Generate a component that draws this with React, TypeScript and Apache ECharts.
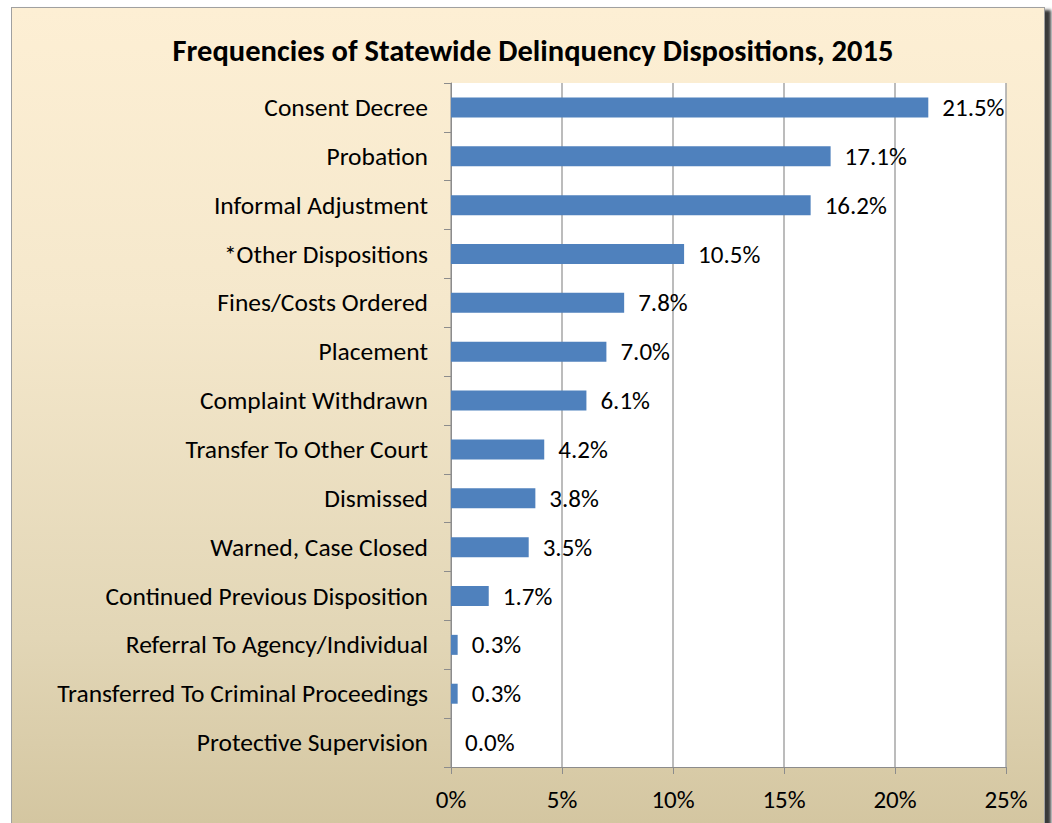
import React, { useEffect, useRef } from "react";
import * as echarts from "echarts";

const categories = [
  "Consent Decree",
  "Probation",
  "Informal Adjustment",
  "*Other Dispositions",
  "Fines/Costs Ordered",
  "Placement",
  "Complaint Withdrawn",
  "Transfer To Other Court",
  "Dismissed",
  "Warned, Case Closed",
  "Continued Previous Disposition",
  "Referral To Agency/Individual",
  "Transferred To Criminal Proceedings",
  "Protective Supervision",
];

const values = [21.5, 17.1, 16.2, 10.5, 7.8, 7.0, 6.1, 4.2, 3.8, 3.5, 1.7, 0.3, 0.3, 0.0];

const xTicks = { min: 0, max: 25, interval: 5 };

const titleText = "Frequencies of Statewide Delinquency Dispositions, 2015";

const FONT = "Carlito, Lato, 'Open Sans', sans-serif";

export default function App() {
  const ref = useRef<HTMLDivElement>(null);

  useEffect(() => {
    document.body.style.margin = "0";
    if (!ref.current) return;
    const chart = echarts.init(ref.current, null, { renderer: "svg" });
    chart.setOption({
      animation: false,
      backgroundColor: "transparent",
      textStyle: { fontFamily: FONT },
      title: {
        text: titleText,
        left: 528,
        textAlign: "center",
        top: 30,
        textStyle: { fontFamily: FONT, fontSize: 30.5, fontWeight: "bold", color: "#000" },
      },
      grid: {
        left: 451,
        right: 46,
        top: 83,
        bottom: 56,
        show: true,
        backgroundColor: "#ffffff",
        borderWidth: 0,
      },
      xAxis: {
        type: "value",
        min: xTicks.min,
        max: xTicks.max,
        interval: xTicks.interval,
        axisLabel: {
          formatter: "{value}%",
          fontSize: 25,
          color: "#000",
          margin: 20,
          fontFamily: FONT,
        },
        axisLine: { show: true, lineStyle: { color: "#8c8c8c", width: 1 } },
        axisTick: { show: true, length: 7, lineStyle: { color: "#8c8c8c" } },
        splitLine: { show: true, lineStyle: { color: "#a6a6a6", width: 1.5 } },
      },
      yAxis: {
        type: "category",
        inverse: true,
        data: categories,
        axisLabel: { fontSize: 25.5, color: "#000", margin: 23, fontFamily: FONT },
        axisLine: { show: true, lineStyle: { color: "#8c8c8c", width: 1 } },
        axisTick: { show: true, length: 7, alignWithLabel: false, lineStyle: { color: "#8c8c8c" } },
        splitLine: { show: false },
      },
      series: [
        {
          type: "bar",
          data: values,
          barWidth: 20,
          itemStyle: { color: "#4f81bd", borderWidth: 0 },
          label: {
            show: true,
            position: "right",
            distance: 14,
            fontSize: 25,
            color: "#000",
            fontFamily: FONT,
            formatter: (p: any) => Number(p.value).toFixed(1) + "%",
          },
        },
      ],
    });
    return () => chart.dispose();
  }, []);

  return (
    <div
      style={{
        position: "fixed",
        left: 0,
        top: 0,
        width: 1052,
        height: 823,
        overflow: "hidden",
        background: "#ffffff",
      }}
    >
      <div
        style={{
          position: "absolute",
          left: 11,
          top: 7,
          width: 1032,
          height: 840,
          border: "1.5px solid #a0a0a0",
          background: "linear-gradient(to bottom, #fdefd4 0%, #f5e8cc 35%, #e2d6b6 75%, #d2c49e 100%)",
          boxShadow: "6px 3px 3px #3a3a3a",
        }}
      />
      <div ref={ref} style={{ position: "absolute", left: 0, top: 0, width: 1052, height: 823 }} />
    </div>
  );
}
